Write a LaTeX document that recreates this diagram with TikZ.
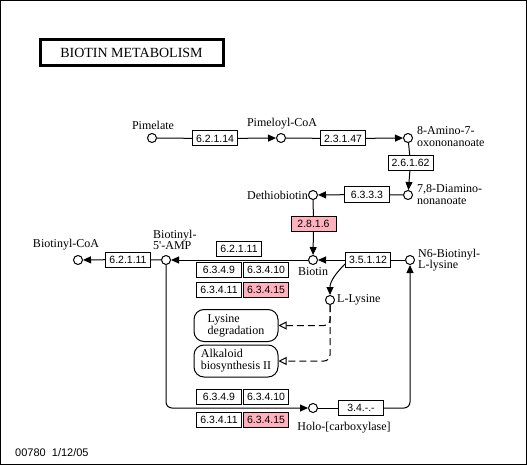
\documentclass[tikz,border=0pt]{standalone}
\usepackage{fontspec}
\usetikzlibrary{arrows.meta}
\newfontfamily\ecf{Liberation Sans}
\newfontfamily\cpf{Liberation Serif}
\definecolor{pinkbox}{RGB}{255,178,190}
\tikzset{
  ec/.style={draw, rectangle, fill=white, minimum width=45pt, minimum height=15pt, inner sep=0pt, line width=1pt, font=\ecf\fontsize{10.5}{11}\selectfont},
  ecp/.style={ec, fill=pinkbox},
  cpd/.style={circle, draw, fill=white, minimum size=9pt, inner sep=0pt, line width=1pt},
  lbl/.style={inner sep=0pt, font=\cpf\fontsize{12}{11.5}\selectfont, align=left},
  mapbox/.style={draw, rounded corners=10pt, minimum width=84pt, minimum height=32pt, inner sep=0pt, line width=1pt, font=\cpf\fontsize{12}{12}\selectfont, align=left},
  conn/.style={line width=1pt},
  arr/.style={conn, -{Triangle[length=8pt,width=7pt]}},
  darr/.style={line width=1pt, dash pattern=on 7pt off 4pt, -{Triangle[open,length=8pt,width=8pt,fill=white]}}
}
\begin{document}
\begin{tikzpicture}[x=1pt,y=-1pt]
\useasboundingbox (0,0) rectangle (527,465);
\draw[line width=1pt] (0.5,0.5) rectangle (526.5,464.5);
% title
\node[draw, line width=3pt, minimum width=183pt, minimum height=26pt, inner sep=0pt, font=\cpf\fontsize{14}{14}\selectfont] (title) at (131.5,53) {BIOTIN METABOLISM};
% compounds
\node[cpd] (c1) at (152,138) {};
\node[cpd] (c2) at (281,138) {};
\node[cpd] (c3) at (408,138) {};
\node[cpd] (c4) at (408,195) {};
\node[cpd] (c5) at (313,195) {};
\node[cpd] (c6) at (313,260) {};
\node[cpd] (c7) at (410,260) {};
\node[cpd] (c8) at (330,300) {};
\node[cpd] (c9) at (166,260) {};
\node[cpd] (c10) at (78,260) {};
\node[cpd] (c11) at (313,408) {};
% labels
\node[lbl] (l1) at (153,125) {Pimelate};
\node[lbl] (l2) at (282,124) {Pimeloyl-CoA};
\node[lbl, anchor=west] (l3) at (417,136.5) {8-Amino-7-\\oxononanoate};
\node[lbl, anchor=west] (l4) at (417,194.5) {7,8-Diamino-\\nonanoate};
\node[lbl, anchor=east] (l5) at (308,195) {Dethiobiotin};
\node[lbl] (l6) at (313,272) {Biotin};
\node[lbl, anchor=west] (l7) at (418,260) {N6-Biotinyl-\\L-lysine};
\node[lbl, anchor=west] (l8) at (337,300) {L-Lysine};
\node[lbl, anchor=west] (l9) at (153,240) {Biotinyl-\\5\textquotesingle-AMP};
\node[lbl] (l10) at (66,245) {Biotinyl-CoA};
\node[lbl] (l11) at (344,428) {Holo-[carboxylase]};
% enzymes
\node[ec] (e1) at (215,138.5) {6.2.1.14};
\node[ec] (e2) at (343,138.5) {2.3.1.47};
\node[ec] (e3) at (410.5,163) {2.6.1.62};
\node[ec] (e4) at (367,194.5) {6.3.3.3};
\node[ecp] (e5) at (313.5,224) {2.8.1.6};
\node[ec] (e6) at (368,260) {3.5.1.12};
\node[ec] (e7) at (239,248.5) {6.2.1.11};
\node[ec] (e8) at (219,270) {6.3.4.9};
\node[ec] (e9) at (266,270) {6.3.4.10};
\node[ec] (e10) at (219,289.5) {6.3.4.11};
\node[ecp] (e11) at (266,289.5) {6.3.4.15};
\node[ec] (e12) at (128,259.5) {6.2.1.11};
\node[ec] (e13) at (219,396.5) {6.3.4.9};
\node[ec] (e14) at (266,396.5) {6.3.4.10};
\node[ec] (e15) at (219,419.5) {6.3.4.11};
\node[ecp] (e16) at (266,419.5) {6.3.4.15};
\node[ec] (e17) at (361,408) {3.4.-.-};
% maps
\node[mapbox] (m1) at (236,325.5) {Lysine\\degradation};
\node[mapbox] (m2) at (236,361) {Alkaloid\\biosynthesis II};
% connectors
\draw[arr] (c1) -- (e1) -- (c2);
\draw[arr] (c2) -- (e2) -- (c3);
\draw[arr] (c3) -- (e3) -- (c4);
\draw[arr] (c4) -- (e4) -- (c5);
\draw[arr] (c5) -- (e5) -- (c6);
\draw[arr] (c7) -- (e6) -- (c6);
\draw[arr] (c6) -- (c9);
\draw[arr] (c9) -- (e12) -- (c10);
\coordinate (cs) at (345,264);
\draw[arr] (cs) to[out=225, in=90] (c8);
\draw[darr, rounded corners=6pt] (c8) |- (m1);
\draw[darr, rounded corners=6pt] (c8) |- (m2);
\draw[arr, rounded corners=6pt] (c9) |- (c11);
\draw[conn] (c11) -- (e17);
\draw[arr, rounded corners=6pt] (e17) -| (c7);
% footer
\node[inner sep=0pt, anchor=west, font=\ecf\fontsize{11}{11}\selectfont] (foot) at (15,453) {00780\ \ 1/12/05};
\end{tikzpicture}
\end{document}
